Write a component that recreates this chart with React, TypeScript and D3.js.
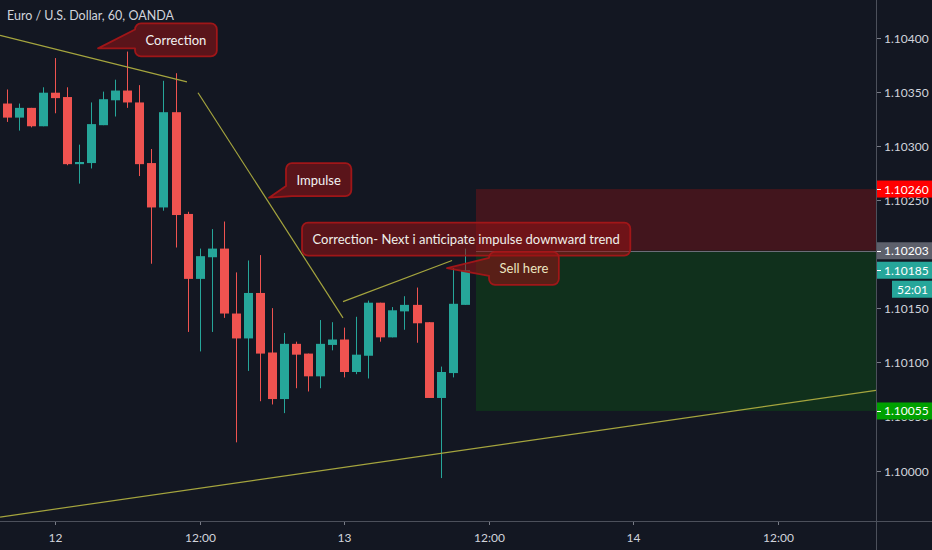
import React, { useEffect, useRef } from "react";
import * as d3 from "d3";

const W = 932;
const H = 550;

const title = "Euro / U.S. Dollar, 60, OANDA";

// hourly candles, index 0 = first visible bar
const opens = [
  1.10339, 1.10326, 1.10335, 1.10318, 1.10349, 1.10345, 1.10283, 1.10284, 1.10319, 1.10342,
  1.10351, 1.1034, 1.10284, 1.10243, 1.10331, 1.10237, 1.10177, 1.10197, 1.10205, 1.10145,
  1.10122, 1.10164, 1.10109, 1.10066, 1.10117, 1.10108, 1.10087, 1.10116, 1.10121, 1.10091,
  1.10106, 1.10155, 1.10123, 1.10147, 1.10153, 1.10137, 1.10067, 1.1009, 1.10153,
];
const highs = [
  1.10352, 1.10339, 1.10335, 1.10354, 1.10381, 1.10354, 1.10301, 1.1034, 1.1035, 1.10361,
  1.10387, 1.10356, 1.10297, 1.1036, 1.10367, 1.10239, 1.10205, 1.10223, 1.1023, 1.10183,
  1.10194, 1.10199, 1.1015, 1.10127, 1.10119, 1.10108, 1.10139, 1.10137, 1.10132, 1.10142,
  1.10157, 1.10155, 1.10151, 1.10161, 1.10169, 1.10137, 1.10096, 1.10187, 1.10205,
];
const lows = [
  1.10322, 1.10314, 1.10317, 1.10318, 1.1033, 1.10282, 1.10265, 1.10279, 1.10319, 1.10327,
  1.10335, 1.10272, 1.10191, 1.1024, 1.10206, 1.10128, 1.1011, 1.10128, 1.10141, 1.10026,
  1.10092, 1.10064, 1.10061, 1.10053, 1.10076, 1.10073, 1.10076, 1.10111, 1.10086, 1.10089,
  1.10085, 1.10119, 1.10123, 1.1013, 1.10118, 1.10067, 1.09993, 1.10086, 1.10153,
];
const closes = [
  1.10326, 1.10335, 1.10318, 1.10349, 1.10344, 1.10283, 1.10285, 1.1032, 1.10343, 1.10351,
  1.1034, 1.10283, 1.10243, 1.10331, 1.10236, 1.10177, 1.10198, 1.10205, 1.10145, 1.10122,
  1.10164, 1.10108, 1.10066, 1.10117, 1.10107, 1.10087, 1.10117, 1.10121, 1.10091, 1.10107,
  1.10155, 1.10123, 1.10148, 1.10153, 1.10136, 1.10067, 1.10091, 1.10154, 1.10185,
];

const xTickIdx = [4, 16, 28, 40, 52, 64];
const xTickLabels = ["12", "12:00", "13", "12:00", "14", "12:00"];
// 1.10200 sits fully under the entry price label, so it is not drawn
const yTickValues = [1.1, 1.1005, 1.101, 1.1015, 1.1025, 1.103, 1.1035, 1.104];

const stopPrice = 1.1026;
const entryPrice = 1.10203;
const targetPrice = 1.10055;
const lastPrice = 1.10185;
const countdown = "52:01";
const zoneStartIdx = 38.95;

const trendStartIdx = [-0.56, 15.87, 27.9, -0.56];
const trendStartPrice = [1.10402, 1.10349, 1.10156, 1.09957];
const trendEndIdx = [14.95, 27.9, 36.95, 72.13];
const trendEndPrice = [1.10359, 1.10141, 1.10194, 1.10074];

const calloutTexts = [
  "Correction",
  "Impulse",
  "Correction- Next i anticipate impulse downward trend",
  "Sell here",
];
const calloutIdx = [10.64, 23.17, 24.5, 40.02];
const calloutPrice = [1.10413, 1.10284, 1.10229, 1.10202];
const calloutTipIdx = [7.57, 21.76, null, 36.53];
const calloutTipPrice = [1.1039, 1.10252, null, 1.10187];
const calloutTextColor = ["#f2f2f2", "#f2f2f2", "#f0f0ea", "#ece6c0"];

const FONT = "Lato, 'Noto Sans', sans-serif";
const BG = "#131722";
const UP = "#26a69a";
const DOWN = "#ef5350";
const TEXT = "#d1d4dc";

export default function App() {
  const ref = useRef<SVGSVGElement>(null);

  useEffect(() => {
    const svg = d3.select(ref.current);
    svg.selectAll("*").remove();

    const plotR = 876;
    const plotB = 521;

    const x = d3.scaleLinear().domain([4, 64]).range([55, 778]);
    const y = d3.scaleLinear().domain([1.1, 1.104]).range([470.5, 37.5]);

    svg.append("rect").attr("width", W).attr("height", H).attr("fill", BG);

    svg
      .append("defs")
      .append("clipPath")
      .attr("id", "plotclip")
      .append("rect")
      .attr("x", 0)
      .attr("y", 0)
      .attr("width", plotR)
      .attr("height", plotB);

    const plot = svg.append("g").attr("clip-path", "url(#plotclip)");

    // risk / reward zones
    const zx = Math.round(x(zoneStartIdx));
    plot
      .append("rect")
      .attr("x", zx)
      .attr("y", y(stopPrice))
      .attr("width", plotR - zx)
      .attr("height", y(entryPrice) - y(stopPrice))
      .attr("fill", "#42151d");
    plot
      .append("rect")
      .attr("x", zx)
      .attr("y", y(entryPrice))
      .attr("width", plotR - zx)
      .attr("height", y(targetPrice) - y(entryPrice))
      .attr("fill", "#10301c");
    plot
      .append("line")
      .attr("x1", zx)
      .attr("x2", plotR)
      .attr("y1", Math.round(y(entryPrice)) + 0.5)
      .attr("y2", Math.round(y(entryPrice)) + 0.5)
      .attr("stroke", "#6a6d78")
      .attr("stroke-width", 1);

    // candles
    const idx = d3.range(opens.length);
    const cg = plot.append("g");
    idx.forEach((i) => {
      const o = opens[i];
      const c = closes[i];
      const col = c >= o ? UP : DOWN;
      const cx = Math.round(x(i)) + 0.5;
      cg.append("line")
        .attr("x1", cx)
        .attr("x2", cx)
        .attr("y1", y(highs[i]))
        .attr("y2", y(lows[i]))
        .attr("stroke", col)
        .attr("stroke-width", 1);
      const top = Math.min(y(o), y(c));
      const h = Math.max(1, Math.abs(y(o) - y(c)));
      cg.append("rect")
        .attr("x", Math.round(x(i)) - 4)
        .attr("y", top)
        .attr("width", 9)
        .attr("height", h)
        .attr("fill", col);
    });

    // trend lines
    trendStartIdx.forEach((_, k) => {
      plot
        .append("line")
        .attr("x1", x(trendStartIdx[k]))
        .attr("y1", y(trendStartPrice[k]))
        .attr("x2", x(trendEndIdx[k]))
        .attr("y2", y(trendEndPrice[k]))
        .attr("stroke", "#a5a53e")
        .attr("stroke-width", 1.2);
    });

    // callouts
    const padX = 10.5;
    const boxH = 33;
    const r = 6;
    calloutTexts.forEach((t, k) => {
      const g = plot.append("g");
      const left = x(calloutIdx[k]);
      const top = y(calloutPrice[k]);
      const txt = g
        .append("text")
        .attr("x", left + padX)
        .attr("y", top + boxH / 2)
        .attr("dominant-baseline", "central")
        .attr("font-family", FONT)
        .attr("font-size", 13)
        .attr("fill", calloutTextColor[k])
        .text(t);
      const tw = (txt.node() as SVGTextElement).getComputedTextLength();
      const right = left + tw + padX * 2;
      const bottom = top + boxH;
      const p = d3.path();
      p.moveTo(left + r, top);
      p.lineTo(right - r, top);
      p.arcTo(right, top, right, top + r, r);
      p.lineTo(right, bottom - r);
      p.arcTo(right, bottom, right - r, bottom, r);
      const ti = calloutTipIdx[k];
      const tpz = calloutTipPrice[k];
      if (ti == null || tpz == null) {
        p.lineTo(left + r, bottom);
        p.arcTo(left, bottom, left, bottom - r, r);
      } else {
        const tx = x(ti);
        const ty = y(tpz);
        if (ty > bottom) {
          p.lineTo(left + 6, bottom);
          p.lineTo(tx, ty);
          p.lineTo(left, bottom - 10);
        } else {
          p.lineTo(left + r, bottom);
          p.arcTo(left, bottom, left, bottom - r, r);
          const y2 = Math.max(ty, bottom - 9);
          p.lineTo(left, y2);
          p.lineTo(tx, ty);
          p.lineTo(left, top + 6);
        }
      }
      p.lineTo(left, top + r);
      p.arcTo(left, top, left + r, top, r);
      p.closePath();
      g.insert("path", "text")
        .attr("d", p.toString())
        .attr("fill", "rgba(150,18,20,0.55)")
        .attr("stroke", "rgba(165,22,24,0.95)")
        .attr("stroke-width", 1.8)
        .attr("stroke-linejoin", "round");
    });

    // axes lines
    svg
      .append("line")
      .attr("x1", 0)
      .attr("x2", W)
      .attr("y1", plotB + 0.5)
      .attr("y2", plotB + 0.5)
      .attr("stroke", "#4c505b");
    svg
      .append("line")
      .attr("x1", plotR + 0.5)
      .attr("x2", plotR + 0.5)
      .attr("y1", 0)
      .attr("y2", H)
      .attr("stroke", "#4c505b");

    // x axis ticks
    xTickIdx.forEach((v, k) => {
      const xx = Math.round(x(v)) + 0.5;
      svg
        .append("line")
        .attr("x1", xx)
        .attr("x2", xx)
        .attr("y1", plotB + 1)
        .attr("y2", plotB + 4)
        .attr("stroke", "#787b86");
      svg
        .append("text")
        .attr("x", xx)
        .attr("y", 542)
        .attr("text-anchor", "middle")
        .attr("font-family", FONT)
        .attr("font-size", 12)
        .attr("fill", TEXT)
        .text(xTickLabels[k]);
    });

    // y axis ticks
    const fmt = d3.format(".5f");
    yTickValues.forEach((v) => {
      const yy = Math.round(y(v)) + 0.5;
      svg
        .append("line")
        .attr("x1", plotR + 1)
        .attr("x2", plotR + 5)
        .attr("y1", yy)
        .attr("y2", yy)
        .attr("stroke", "#787b86");
      svg
        .append("text")
        .attr("x", 884)
        .attr("y", yy)
        .attr("dominant-baseline", "central")
        .attr("font-family", FONT)
        .attr("font-size", 12)
        .attr("fill", TEXT)
        .text(fmt(v));
    });

    // price labels
    const priceLabels = [
      { v: stopPrice, c: "#ff0000" },
      { v: entryPrice, c: "#5d606b" },
      { v: lastPrice, c: UP },
      { v: targetPrice, c: "#00a000" },
    ];
    priceLabels.forEach((pl) => {
      const yy = y(pl.v);
      svg
        .append("rect")
        .attr("x", plotR + 1)
        .attr("y", yy - 8.5)
        .attr("width", W - plotR)
        .attr("height", 17)
        .attr("fill", pl.c);
      svg
        .append("line")
        .attr("x1", plotR + 1)
        .attr("x2", plotR + 5)
        .attr("y1", Math.round(yy) + 0.5)
        .attr("y2", Math.round(yy) + 0.5)
        .attr("stroke", "#ffffff");
      svg
        .append("text")
        .attr("x", 884)
        .attr("y", yy)
        .attr("dominant-baseline", "central")
        .attr("font-family", FONT)
        .attr("font-size", 12)
        .attr("fill", "#ffffff")
        .text(fmt(pl.v));
    });
    const cy = y(lastPrice) + 10.5;
    svg
      .append("rect")
      .attr("x", 892)
      .attr("y", cy)
      .attr("width", W - 892)
      .attr("height", 17)
      .attr("fill", UP);
    svg
      .append("text")
      .attr("x", 897)
      .attr("y", cy + 8.5)
      .attr("dominant-baseline", "central")
      .attr("font-family", FONT)
      .attr("font-size", 12)
      .attr("fill", "#ffffff")
      .text(countdown);

    // title
    svg
      .append("text")
      .attr("x", 7)
      .attr("y", 20)
      .attr("font-family", FONT)
      .attr("font-size", 12.5)
      .attr("fill", TEXT)
      .text(title);
  }, []);

  return (
    <div>
      <style>{`body{margin:0;background:${BG};}`}</style>
      <svg ref={ref} width={W} height={H} style={{ display: "block" }} />
    </div>
  );
}
